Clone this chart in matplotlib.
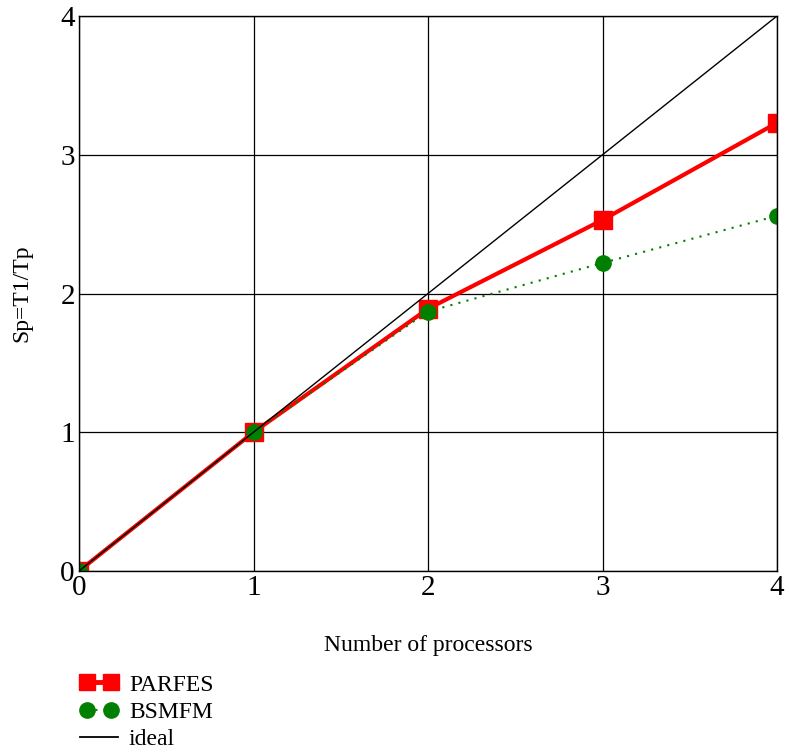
import matplotlib
matplotlib.use('Agg')
import matplotlib.pyplot as plt
from matplotlib.lines import Line2D
from matplotlib.legend_handler import HandlerLine2D

plt.rcParams['font.family'] = ['Liberation Serif', 'DejaVu Serif']

procs = [0, 1, 2, 3, 4]
parfes = [0, 1.0, 1.89, 2.53, 3.23]
bsmfm = [0, 1.0, 1.87, 2.22, 2.56]
ideal = [0, 1, 2, 3, 4]
ticks = [0, 1, 2, 3, 4]

fig = plt.figure(figsize=(7.89, 7.52), dpi=100)
ax = fig.add_axes([79 / 789, 1 - 571 / 752, 698 / 789, 555 / 752])

# red underneath, green markers over it, black ideal on top
ax.plot(procs, parfes, color='red', lw=3.0, marker='s', ms=13, zorder=3)
ax.plot(procs, bsmfm, color='green', lw=1.5, ls=(0, (1, 3)), marker='o', ms=11, zorder=4)
ax.plot(procs, ideal, color='black', lw=1.0, zorder=5)

ax.set_xlim(0, 4)
ax.set_ylim(0, 4)
ax.set_xticks(ticks)
ax.set_yticks(ticks)
ax.grid(True, color='black', lw=0.9)
ax.set_axisbelow(True)
ax.tick_params(length=0, labelsize=21, pad=3)
for s in ax.spines.values():
    s.set_linewidth(1.0)
    s.set_zorder(6)
ax.set_xlabel('Number of processors', fontsize=17, labelpad=24)
ax.set_ylabel('Sp=T1/Tp', fontsize=17, labelpad=20)

h_par = Line2D([], [], color='red', lw=3.5, marker='s', ms=11)
h_bsm = Line2D([], [], color='green', lw=1.5, ls=(0, (1, 3)), marker='o', ms=11)
h_ide = Line2D([], [], color='black', lw=1.3)
fig.legend([h_par, h_bsm, h_ide], ['PARFES', 'BSMFM', 'ideal'], loc='upper left',
           bbox_to_anchor=(80 / 789, 1 - 674 / 752), frameon=False,
           fontsize=17, handlelength=1.6, numpoints=2, handletextpad=0.47,
           labelspacing=0.25, borderaxespad=0, borderpad=0,
           handler_map={h_ide: HandlerLine2D(marker_pad=0)})

fig.savefig('out.png', dpi=100)
